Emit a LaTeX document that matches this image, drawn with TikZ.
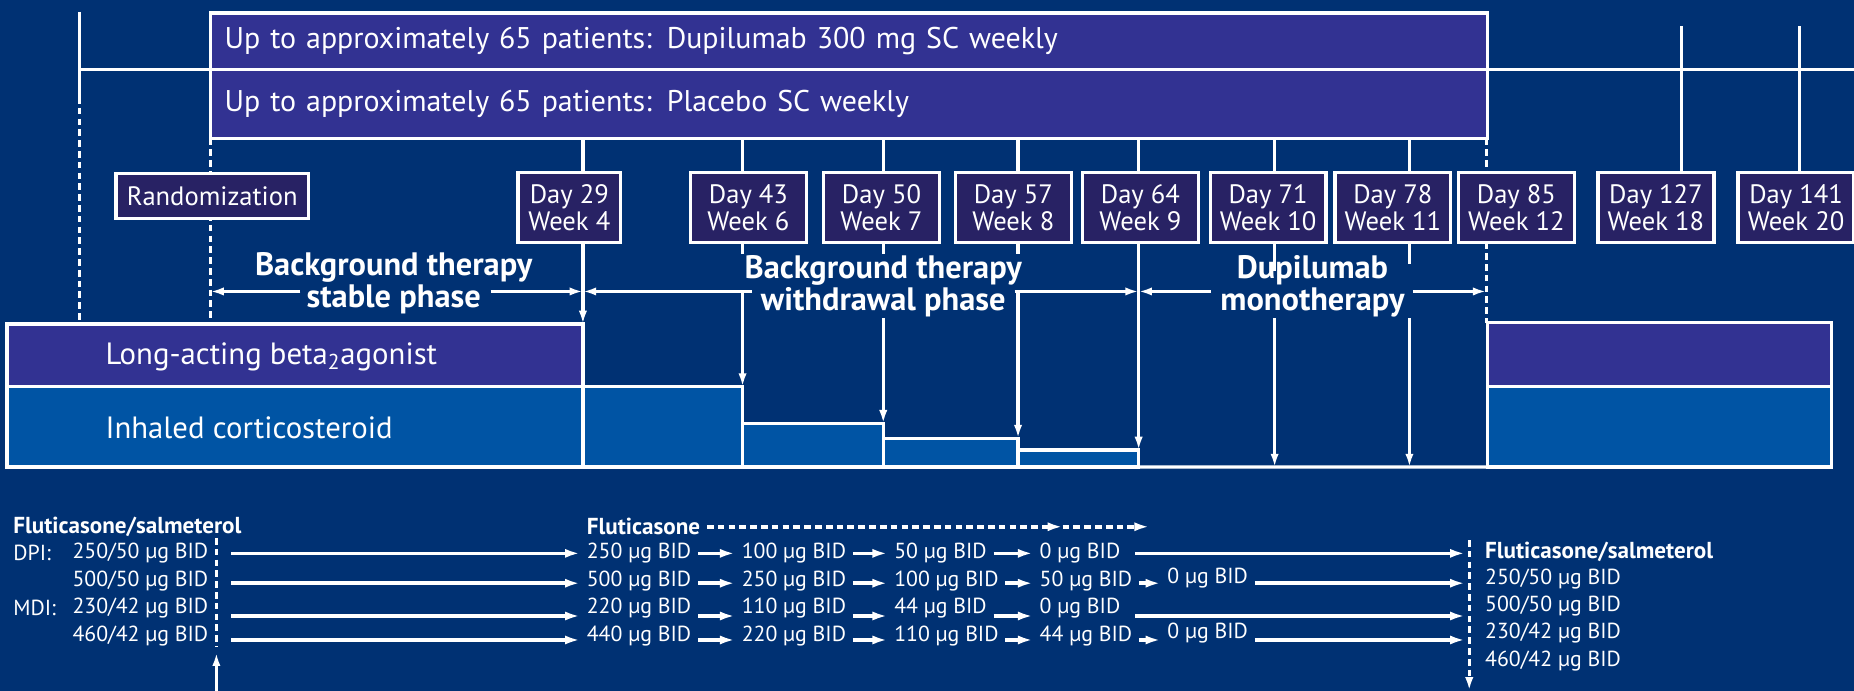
\documentclass[tikz,border=0pt]{standalone}
\usepackage{fontspec}
\setmainfont{PT Sans}
\usetikzlibrary{arrows.meta}
\definecolor{navy}{RGB}{0,49,115}
\definecolor{armblue}{RGB}{50,50,146}
\definecolor{icsblue}{RGB}{0,84,164}
\definecolor{dayfill}{RGB}{40,34,100}

\begin{document}
\begin{tikzpicture}[x=0.025cm,y=-0.025cm,white,line width=1.9pt,
  tip/.style={-{Latex[length=8pt,width=5pt]}},
  dashline/.style={dash pattern=on 4pt off 2.5pt},
  armbox/.style={draw=white,fill=armblue,line width=2pt,outer sep=0pt,anchor=north west,inner xsep=0.3cm,inner ysep=0pt,text width=26.4cm,align=left,font=\fontsize{18}{20}\selectfont},
  daybox/.style={draw=white,fill=dayfill,line width=2pt,outer sep=0pt,minimum width=2.45cm,minimum height=1.475cm,inner sep=0pt,align=center,font=\fontsize{16}{16.5}\selectfont},
  bar/.style={draw=white,line width=2pt,outer sep=0pt,anchor=north west,inner sep=0pt},
  barlabel/.style={anchor=west,inner sep=0pt,font=\fontsize{18.5}{20}\selectfont},
  phase/.style={align=center,inner sep=0pt,font=\bfseries\fontsize{19.5}{19}\selectfont},
  dose/.style={anchor=west,inner xsep=3.2pt,inner ysep=0pt,font=\fontsize{13.1}{15}\selectfont},
  dosehead/.style={dose,font=\bfseries\fontsize{13.9}{15}\selectfont},
  doseto/.style={line width=2.2pt,-{Latex[length=9pt,width=5.5pt]}},
  rowb/.style={transform canvas={yshift=-1.6pt}},
  rowc/.style={transform canvas={yshift=-4.6pt}},
  rowd/.style={transform canvas={yshift=-2.6pt}}]

\fill[navy] (0,0) rectangle (1568,584);
\useasboundingbox (0,0) rectangle (1568,584);

\coordinate (scr) at (67,10);
\coordinate (scrb) at (67,82);
\coordinate (tend) at (1568,59);
\coordinate (t29) at (493,0);
\coordinate (t43) at (628,0);
\coordinate (t50) at (747,0);
\coordinate (t57) at (861,0);
\coordinate (t64) at (963,0);
\coordinate (t71) at (1078,0);
\coordinate (t78) at (1192,0);
\coordinate (t85) at (1257,0);
\coordinate (t127) at (1422,22);
\coordinate (t141) at (1522,22);

\node[bar,fill=armblue,minimum width=12.175cm,minimum height=1.325cm] (laba1) at (6,274) {};
\node[bar,fill=icsblue,minimum width=12.175cm,minimum height=1.7cm] (ics1) at (6,327) {};
\node[bar,fill=icsblue,minimum width=3.375cm,minimum height=1.7cm] (ics2) at (493,327) {};
\node[bar,fill=icsblue,minimum width=2.975cm,minimum height=0.925cm] (ics3) at (628,358) {};
\node[bar,fill=icsblue,minimum width=2.85cm,minimum height=0.61cm] (ics4) at (747,370.6) {};
\node[bar,fill=icsblue,minimum width=2.55cm,minimum height=0.36cm] (ics5) at (861,380.6) {};
\node[bar,fill=armblue,minimum width=7.275cm,minimum height=1.35cm] (laba2) at (1258,273) {};
\node[bar,fill=icsblue,minimum width=7.275cm,minimum height=1.7cm] (ics6) at (1258,327) {};
\path[draw,line width=2pt] (ics5.south east) -- (ics6.south west);

\node[barlabel] (labatxt) at (88,301.7) {Long-acting beta\textsubscript{2}agonist};
\node[barlabel] (icstxt) at (88,362) {Inhaled corticosteroid};

\node[armbox,minimum height=1.2cm] (dup) at (178,11) {Up to approximately 65 patients: Dupilumab 300 mg SC weekly};
\node[armbox,minimum height=1.45cm] (pbo) at (178,59) {Up to approximately 65 patients: Placebo SC weekly};

\path[draw,dashline] (pbo.south west) -- (pbo.south west |- laba1.north);

\node[daybox,minimum width=4.075cm,minimum height=0.95cm] (rand) at (179.5,166) {Randomization};
\node[daybox,minimum width=2.175cm] (d29) at (481.5,175.5) {Day 29\\Week 4};
\node[daybox] (d43) at (633,175.5) {Day 43\\Week 6};
\node[daybox] (d50) at (745.5,175.5) {Day 50\\Week 7};
\node[daybox] (d57) at (857,175.5) {Day 57\\Week 8};
\node[daybox] (d64) at (964.5,175.5) {Day 64\\Week 9};
\node[daybox] (d71) at (1072.5,175.5) {Day 71\\Week 10};
\node[daybox] (d78) at (1178,175.5) {Day 78\\Week 11};
\node[daybox] (d85) at (1282.5,175.5) {Day 85\\Week 12};
\node[daybox] (d127) at (1400.5,175.5) {Day 127\\Week 18};
\node[daybox] (d141) at (1519,175.5) {Day 141\\Week 20};

\path[draw] (scr) -- (scrb);
\path[draw,dashline] (scrb) -- (scrb |- laba1.north);
\path[draw] (scr |- dup.south) -- (dup.south west);
\path[draw] (dup.south east) -- (tend |- dup.south);
\path[draw] (t127) -- (t127 |- d127.north);
\path[draw] (t141) -- (t141 |- d141.north);

\path[draw] (t29 |- pbo.south) -- (t29 |- d29.north);
\path[draw] (t43 |- pbo.south) -- (t43 |- d43.north);
\path[draw] (t50 |- pbo.south) -- (t50 |- d50.north);
\path[draw] (t57 |- pbo.south) -- (t57 |- d57.north);
\path[draw] (t64 |- pbo.south) -- (t64 |- d64.north);
\path[draw] (t71 |- pbo.south) -- (t71 |- d71.north);
\path[draw] (t78 |- pbo.south) -- (t78 |- d78.north);
\path[draw,dashline] (t85 |- pbo.south) -- (t85 |- d85.north);

\node[phase] (stab) at (333,239.5) {Background therapy\\stable phase};
\node[phase] (wd) at (747,242) {Background therapy\\withdrawal phase};
\node[phase] (mono) at (1110,242) {Dupilumab\\monotherapy};

\coordinate (ph1l) at (254,246.5);
\coordinate (ph1r) at (415,246.5);
\coordinate (ph2l) at (636,246.5);
\coordinate (ph2r) at (858,246.5);
\coordinate (ph3l) at (1024,246.5);
\coordinate (ph3r) at (1195,246.5);

\path[draw,tip] (ph1l) -- (pbo.south west |- ph1l);
\path[draw,tip] (ph1r) -- (t29 |- ph1r);
\path[draw,tip] (ph2l) -- (t29 |- ph2l);
\path[draw,tip] (ph2r) -- (t64 |- ph2r);
\path[draw,tip] (ph3l) -- (t64 |- ph3l);
\path[draw,tip] (ph3r) -- (t85 |- ph3r);

\path[draw,tip] (t29 |- d29.south) -- (t29 |- laba1.north);
\path[draw] (t43 |- d43.south) -- ++(0,10);
\path[draw] (t50 |- d50.south) -- ++(0,10);
\path[draw] (t57 |- d57.south) -- ++(0,10);
\path[draw,tip] (t64 |- d64.south) -- (t64 |- ics5.north);
\path[draw] (t71 |- d71.south) -- ++(0,24);
\path[draw] (t78 |- d78.south) -- ++(0,18);
\path[draw,dashline] (t85 |- d85.south) -- (t85 |- laba2.north);

\path[draw,tip] (t43 |- ph1l) -- (t43 |- ics2.north);
\path[draw,tip] (t50 |- wd.south) -- (t50 |- ics3.north);
\path[draw,tip] (t57 |- ph2r) -- (t57 |- ics4.north);
\path[draw,tip] (t71 |- mono.south) -- (t71 |- ics6.south);
\path[draw,tip] (t78 |- mono.south) -- (t78 |- ics6.south);

\node[dosehead] (fsl) at (5.5,445.5) {Fluticasone/salmeterol};
\node[dose] (dpi) at (5.5,468) {DPI:};
\node[dose] (mdi) at (5.5,514.5) {MDI:};
\node[dose] (s1) at (55.5,468) {250/50 µg BID};
\node[dose] (s2) at (55.5,491) {500/50 µg BID};
\node[dose] (s3) at (55.5,514.5) {230/42 µg BID};
\node[dose] (s4) at (55.5,537.6) {460/42 µg BID};

\node[dosehead] (fl) at (490.5,445.5) {Fluticasone};
\node[dose] (a1) at (490.5,468) {250 µg BID};
\node[dose] (a2) at (490.5,491) {500 µg BID};
\node[dose] (a3) at (490.5,514.5) {220 µg BID};
\node[dose] (a4) at (490.5,537.6) {440 µg BID};
\node[dose] (b1) at (621.5,468) {100 µg BID};
\node[dose] (b2) at (621.5,491) {250 µg BID};
\node[dose] (b3) at (621.5,514.5) {110 µg BID};
\node[dose] (b4) at (621.5,537.6) {220 µg BID};
\node[dose] (c1) at (750.5,468) {50 µg BID};
\node[dose] (c2) at (750.5,491) {100 µg BID};
\node[dose] (c3) at (750.5,514.5) {44 µg BID};
\node[dose] (c4) at (750.5,537.6) {110 µg BID};
\node[dose] (d1) at (873.5,468) {0 µg BID};
\node[dose] (d2) at (873.5,491) {50 µg BID};
\node[dose] (d3) at (873.5,514.5) {0 µg BID};
\node[dose] (d4) at (873.5,537.6) {44 µg BID};
\node[dose] (e2) at (981.5,489) {0 µg BID};
\node[dose] (e4) at (981.5,535) {0 µg BID};

\node[dosehead] (fsr) at (1250.2,466.6) {Fluticasone/salmeterol};
\node[dose] (r1) at (1250.2,489.7) {250/50 µg BID};
\node[dose] (r2) at (1250.2,512.6) {500/50 µg BID};
\node[dose] (r3) at (1250.2,535.6) {230/42 µg BID};
\node[dose] (r4) at (1250.2,558.8) {460/42 µg BID};

\coordinate (lx) at (195.6,0);
\coordinate (rx) at (1239,0);
\coordinate (flm) at (898.7,445.5);
\coordinate (fle) at (972,445.5);
\coordinate (rl1) at (183,455);
\coordinate (rl2) at (183,547);
\coordinate (up1) at (183,584);
\coordinate (up2) at (183,552);
\coordinate (rr1) at (1242.6,456.7);
\coordinate (rr2) at (1242.6,584);

\path[draw,dashline] (rl1) -- (rl2);
\path[draw,tip] (up1) -- (up2);
\path[draw,dashline,tip] (rr1) -- (rr2);
\path[draw,dashline,doseto] (fl.east) -- (flm);
\path[draw,dashline,doseto] (flm) -- (fle);

\path[draw,doseto] (lx |- s1.east) -- (a1.west);
\path[draw,doseto] (a1.east) -- (b1.west);
\path[draw,doseto] (b1.east) -- (c1.west);
\path[draw,doseto] (c1.east) -- (d1.west);
\path[draw,doseto] ([xshift=5pt]d1.east) -- (rx |- d1.east);

\path[draw,doseto,rowb] (lx |- s2.east) -- (a2.west);
\path[draw,doseto,rowb] (a2.east) -- (b2.west);
\path[draw,doseto,rowb] (b2.east) -- (c2.west);
\path[draw,doseto,rowb] (c2.east) -- (d2.west);
\path[draw,doseto,rowb] (d2.east) -- (e2.west |- d2.east);
\path[draw,doseto,rowb] (e2.east |- d2.east) -- (rx |- d2.east);

\path[draw,doseto,rowc] (lx |- s3.east) -- (a3.west);
\path[draw,doseto,rowc] (a3.east) -- (b3.west);
\path[draw,doseto,rowc] (b3.east) -- (c3.west);
\path[draw,doseto,rowc] (c3.east) -- (d3.west);
\path[draw,doseto,rowc] ([xshift=5pt]d3.east) -- (rx |- d3.east);

\path[draw,doseto,rowd] (lx |- s4.east) -- (a4.west);
\path[draw,doseto,rowd] (a4.east) -- (b4.west);
\path[draw,doseto,rowd] (b4.east) -- (c4.west);
\path[draw,doseto,rowd] (c4.east) -- (d4.west);
\path[draw,doseto,rowd] (d4.east) -- (e4.west |- d4.east);
\path[draw,doseto,rowd] (e4.east |- d4.east) -- (rx |- d4.east);
\end{tikzpicture}
\end{document}
